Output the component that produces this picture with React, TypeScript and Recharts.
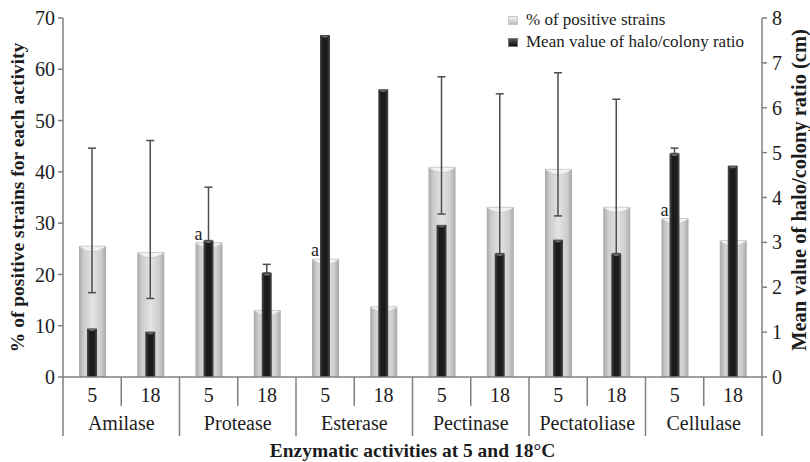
import React from 'react';
import { BarChart, Bar, XAxis, YAxis, ErrorBar, LabelList, Legend, Label } from 'recharts';

// ---- data ----
const enzymes = ['Amilase', 'Protease', 'Esterase', 'Pectinase', 'Pectatoliase', 'Cellulase'];
const temperatures = ['5', '18'];
// % of positive strains (left axis)
const positiveStrains = [25.5, 24.3, 26.2, 13.0, 23.0, 13.7, 40.9, 33.1, 40.5, 33.1, 30.9, 26.6];
// Mean value of halo/colony ratio (right axis)
const haloRatio = [1.08, 1.01, 3.04, 2.32, 7.62, 6.41, 3.39, 2.75, 3.06, 2.75, 4.98, 4.71];
// error bar ends (right axis units)
const errLow: (number | null)[] = [1.88, 1.75, 3.04, 2.32, null, null, 3.63, 2.75, 3.59, 2.75, 4.98, null];
const errHigh: (number | null)[] = [5.1, 5.27, 4.23, 2.51, null, null, 6.69, 6.31, 6.78, 6.19, 5.1, null];
const marks = ['', '', 'a', '', 'a', '', '', '', '', '', 'a', ''];
const leftTicks = [0, 10, 20, 30, 40, 50, 60, 70];
const rightTicks = [0, 1, 2, 3, 4, 5, 6, 7, 8];

const data = positiveStrains.map((v, i) => {
  const lo = errLow[i];
  const hi = errHigh[i];
  return {
    key: enzymes[Math.floor(i / 2)] + '-' + temperatures[i % 2],
    enzyme: enzymes[Math.floor(i / 2)],
    temp: temperatures[i % 2],
    pct: v,
    halo: haloRatio[i],
    err: lo == null || hi == null ? null : [haloRatio[i] - lo, hi - haloRatio[i]],
    mark: marks[i],
  };
});

// ---- layout ----
const W = 810;
const H = 462;
const LEFT_W = 63;
const RIGHT_W = 48;
const TOP = 18;
const X_H = 85;
const PLOT_W = W - LEFT_W - RIGHT_W;
const FONT = '"Liberation Serif", "Times New Roman", serif';
const AXIS = '#808080';
const TEXT = '#1c1c1c';

const XTick = (props: any) => {
  const { x, y, payload } = props;
  const idx = data.findIndex((d) => d.key === payload.value);
  if (idx < 0) return null;
  const d = data[idx];
  const band = PLOT_W / data.length;
  const left = x - band / 2;
  const groupStart = idx % 2 === 0;
  return (
    <g>
      <line x1={left} y1={y} x2={left} y2={y + (groupStart ? 59 : 29)} stroke={AXIS} strokeWidth={1.5} />
      {idx === data.length - 1 && (
        <line x1={x + band / 2} y1={y} x2={x + band / 2} y2={y + 59} stroke={AXIS} strokeWidth={1.5} />
      )}
      <text x={x} y={y + 25} textAnchor="middle" fontSize={20} fontFamily={FONT} fill={TEXT}>
        {d.temp}
      </text>
      {groupStart && (
        <text x={x + band / 2} y={y + 53} textAnchor="middle" fontSize={20} fontFamily={FONT} fill={TEXT}>
          {d.enzyme}
        </text>
      )}
    </g>
  );
};

const GreyCyl = (p: any) => {
  const { x, y, width: w, height: h } = p;
  if (!h || h <= 0) return null;
  return (
    <g>
      <rect x={x} y={y} width={w} height={h} fill="url(#gGrey)" />
      <path
        d={`M${x + 1},${y + 1} Q${x + w / 2},${y + 10} ${x + w - 1},${y + 1} L${x + w - 1},${y} L${x + 1},${y} Z`}
        fill="#f3f3f3"
        stroke="#c4c4c4"
        strokeWidth={0.8}
      />
    </g>
  );
};

const BlackCyl = (p: any) => {
  const { x, y, width: w, height: h } = p;
  if (!h || h <= 0) return null;
  return (
    <g>
      <rect x={x} y={y} width={w} height={h} fill="url(#gBlack)" />
      <path
        d={`M${x + 1},${y + 0.5} Q${x + w / 2},${y + 5} ${x + w - 1},${y + 0.5} Z`}
        fill="#6a6a6a"
      />
    </g>
  );
};

const renderMark = (p: any) => {
  const { x, y, value } = p;
  if (!value) return null;
  return (
    <text x={x + 3} y={y - 3} textAnchor="middle" fontSize={18} fontFamily={FONT} fill={TEXT}>
      {value}
    </text>
  );
};

const LegendBox = () => (
  <div style={{ fontFamily: FONT, fontSize: 17, color: TEXT, lineHeight: '22px', whiteSpace: 'nowrap' }}>
    <div style={{ display: 'flex', alignItems: 'center' }}>
      <span
        style={{
          display: 'inline-block',
          width: 8,
          height: 7,
          marginRight: 8,
          background: 'linear-gradient(to bottom, #f4f4f4, #bdbdbd)',
          border: '1px solid #c8c8c8',
        }}
      />
      % of positive strains
    </div>
    <div style={{ display: 'flex', alignItems: 'center' }}>
      <span
        style={{
          display: 'inline-block',
          width: 8,
          height: 7,
          marginRight: 8,
          background: 'linear-gradient(to bottom, #555, #111)',
          border: '1px solid #777',
        }}
      />
      Mean value of halo/colony ratio
    </div>
  </div>
);

export default function App() {
  return (
    <div style={{ position: 'absolute', left: 0, top: 0, background: '#fff' }}>
      <BarChart width={W} height={H} data={data} margin={{ top: TOP, right: 0, left: 0, bottom: 0 }}>
        <defs>
          <linearGradient id="gGrey" x1="0" y1="0" x2="1" y2="0">
            <stop offset="0%" stopColor="#a8a8a8" />
            <stop offset="18%" stopColor="#cdcdcd" />
            <stop offset="50%" stopColor="#e3e3e3" />
            <stop offset="82%" stopColor="#cdcdcd" />
            <stop offset="100%" stopColor="#a8a8a8" />
          </linearGradient>
          <linearGradient id="gBlack" x1="0" y1="0" x2="1" y2="0">
            <stop offset="0%" stopColor="#4a4a4a" />
            <stop offset="30%" stopColor="#1b1b1b" />
            <stop offset="70%" stopColor="#1b1b1b" />
            <stop offset="100%" stopColor="#4a4a4a" />
          </linearGradient>
        </defs>
        <XAxis
          xAxisId="a"
          dataKey="key"
          height={X_H}
          interval={0}
          tickLine={false}
          tickSize={0}
          tickMargin={0}
          axisLine={{ stroke: AXIS, strokeWidth: 1.5 }}
          tick={<XTick />}
        >
          <Label
            content={() => (
              <text x={LEFT_W + PLOT_W / 2} y={H - 5} textAnchor="middle" fontSize={19.5} fontWeight="bold" fontFamily={FONT} fill={TEXT}>
                Enzymatic activities at 5 and 18°C
              </text>
            )}
          />
        </XAxis>
        <XAxis xAxisId="b" dataKey="key" hide />
        <YAxis
          yAxisId="left"
          width={LEFT_W}
          domain={[0, 70]}
          ticks={leftTicks}
          interval={0}
          tickSize={5}
          tickMargin={3}
          axisLine={{ stroke: AXIS, strokeWidth: 1.5 }}
          tickLine={{ stroke: AXIS, strokeWidth: 1.5 }}
          tick={{ fontSize: 20, fontFamily: FONT, fill: TEXT }}
        >
          <Label
            content={() => (
              <text
                x={0}
                y={0}
                transform={`translate(24, ${TOP + (H - X_H - TOP) / 2}) rotate(-90)`}
                textAnchor="middle"
                fontSize={19.5}
                fontWeight="bold"
                fontFamily={FONT}
                fill={TEXT}
              >
                % of positive strains for each activity
              </text>
            )}
          />
        </YAxis>
        <YAxis
          yAxisId="right"
          orientation="right"
          width={RIGHT_W}
          domain={[0, 8]}
          ticks={rightTicks}
          interval={0}
          tickSize={5}
          tickMargin={5}
          axisLine={{ stroke: AXIS, strokeWidth: 1.5 }}
          tickLine={{ stroke: AXIS, strokeWidth: 1.5 }}
          tick={{ fontSize: 20, fontFamily: FONT, fill: TEXT }}
        >
          <Label
            content={() => (
              <text
                x={0}
                y={0}
                transform={`translate(${W - 4}, 190) rotate(-90)`}
                textAnchor="middle"
                fontSize={20.5}
                fontWeight="bold"
                fontFamily={FONT}
                fill={TEXT}
              >
                Mean value of halo/colony ratio (cm)
              </text>
            )}
          />
        </YAxis>
        <Legend
          layout="horizontal"
          verticalAlign="middle"
          align="center"
          wrapperStyle={{ top: 9, left: 508, width: 260, height: 46 }}
          content={<LegendBox />}
        />
        <Bar
          xAxisId="a"
          yAxisId="left"
          dataKey="pct"
          barSize={27}
          shape={<GreyCyl />}
          isAnimationActive={false}
        >
          <LabelList dataKey="mark" content={renderMark} />
        </Bar>
        <Bar
          xAxisId="b"
          yAxisId="right"
          dataKey="halo"
          barSize={10}
          shape={<BlackCyl />}
          isAnimationActive={false}
        >
          <ErrorBar dataKey="err" direction="y" width={4} strokeWidth={1.5} stroke="#4d4d4d" />
        </Bar>
      </BarChart>
    </div>
  );
}
